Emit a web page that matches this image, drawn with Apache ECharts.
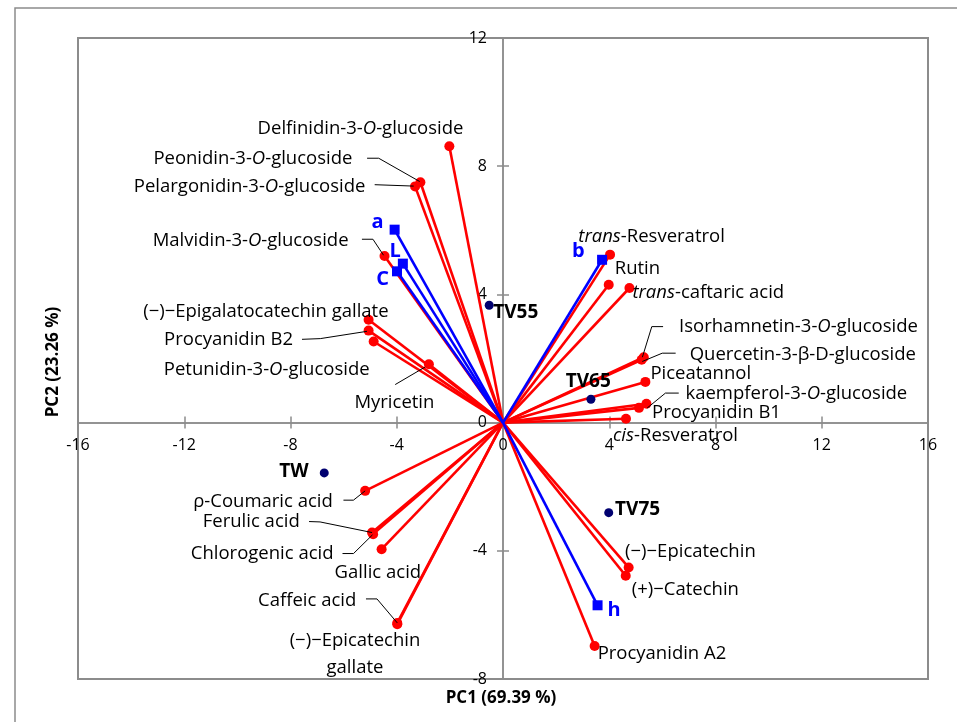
<!DOCTYPE html>
<html><head><meta charset="utf-8">
<script src="https://cdn.jsdelivr.net/npm/echarts@6/dist/echarts.min.js"></script>
<style>html,body{margin:0;padding:0;background:#fff}#c{width:957px;height:722px}</style>
</head><body><div id="c"></div>
<script>
// ---------- DATA ----------
const compounds = [
  'Delfinidin-3-O-glucoside','Peonidin-3-O-glucoside','Pelargonidin-3-O-glucoside','Malvidin-3-O-glucoside',
  '(−)−Epigalatocatechin gallate','Procyanidin B2','Petunidin-3-O-glucoside','Myricetin',
  'trans-Resveratrol','Rutin','trans-caftaric acid','Isorhamnetin-3-O-glucoside','Quercetin-3-β-D-glucoside',
  'Piceatannol','kaempferol-3-O-glucoside','Procyanidin B1','cis-Resveratrol',
  '(−)−Epicatechin','(+)−Catechin','Procyanidin A2',
  'ρ-Coumaric acid','Ferulic acid','Chlorogenic acid','Gallic acid','Caffeic acid','(−)−Epicatechin gallate'
];
const pc1 = [-2.02,-3.11,-3.31,-4.46, -5.06,-5.06,-4.87,-2.79, 4.03,3.98,4.76,5.30,5.22, 5.36,5.40,5.12,4.63, 4.73,4.62,3.45, -5.19,-4.93,-4.89,-4.57,-3.98,-3.98];
const pc2 = [8.62,7.50,7.37,5.20, 3.21,2.87,2.53,1.82, 5.24,4.30,4.20,2.04,1.96, 1.27,0.59,0.46,0.12, -4.52,-4.78,-6.97, -2.13,-3.43,-3.48,-3.95,-6.25,-6.29];

const groups = ['a','L','C','b','h'];
const groupPC1 = [-4.08,-3.77,-3.99,3.73,3.56];
const groupPC2 = [6.02,4.96,4.72,5.08,-5.70];

const samples = ['TW','TV55','TV65','TV75'];
const samplePC1 = [-6.73,-0.52,3.31,3.98];
const samplePC2 = [-1.57,3.66,0.73,-2.81];

const xTicks = [-16,-12,-8,-4,0,4,8,12,16];
const yTicks = [-8,-4,0,4,8,12];
const xTitle = 'PC1 (69.39 %)';
const yTitle = 'PC2 (23.26 %)';

// ---------- LABEL LAYOUT (pixel offsets from each point) ----------
const layout = {
  'Delfinidin-3-O-glucoside': {dx:14, dy:-17.7, align:'right'},
  'Peonidin-3-O-glucoside': {dx:-68, dy:-23.7, align:'right', leader:[[-53.3,-24],[-41.7,-24],[-0.7,-0.7]]},
  'Pelargonidin-3-O-glucoside': {dx:-49.7, dy:0, align:'right', leader:[[-40.4,-1.7],[-1.4,-0.3]]},
  'Malvidin-3-O-glucoside': {dx:-36, dy:-15.7, align:'right', leader:[[-22.6,-16.7],[-11.6,-16.7],[-1,-0.7]]},
  '(−)−Epigalatocatechin gallate': {dx:20, dy:-7.6, align:'right'},
  'Procyanidin B2': {dx:-75.6, dy:9, align:'right', leader:[[-66.6,8.7],[-48.3,8],[-1.6,0.7]]},
  'Petunidin-3-O-glucoside': {dx:-4, dy:28.3, align:'right'},
  'Myricetin': {dx:-34.5, dy:38.7, align:'center', leader:[[-33.7,20.3],[-3.7,2.7]]},
  'trans-Resveratrol': {dx:-31.7, dy:-17.6, align:'left'},
  'Rutin': {dx:6, dy:-16, align:'left'},
  'trans-caftaric acid': {dx:3, dy:4.6, align:'left'},
  'Isorhamnetin-3-O-glucoside': {dx:35.3, dy:-30, align:'left', leader:[[-1.4,0],[8,-30.6],[19.3,-30.6]]},
  'Quercetin-3-β-D-glucoside': {dx:48, dy:-5, align:'left', leader:[[0.6,1.7],[20.6,-6.6],[34,-6.6]]},
  'Piceatannol': {dx:5, dy:-8.4, align:'left'},
  'kaempferol-3-O-glucoside': {dx:39, dy:-10.3, align:'left', leader:[[0.7,4.4],[19,-10.6],[32.3,-10.6]]},
  'Procyanidin B1': {dx:13, dy:4.5, align:'left'},
  'cis-Resveratrol': {dx:-13, dy:16.7, align:'left'},
  '(−)−Epicatechin': {dx:-3.6, dy:-15.6, align:'left'},
  '(+)−Catechin': {dx:6, dy:14.3, align:'left'},
  'Procyanidin A2': {dx:3, dy:7.6, align:'left'},
  'ρ-Coumaric acid': {dx:-32.3, dy:11, align:'right', leader:[[-21.7,9.3],[-11.7,9.3],[0,0]]},
  'Ferulic acid': {dx:-72.3, dy:-11, align:'right', leader:[[-63,-11],[-52,-10.6],[0,0]]},
  'Chlorogenic acid': {dx:-39.6, dy:19.7, align:'right', leader:[[-30.6,19.4],[-19.6,19.4],[-0.6,0.7]]},
  'Gallic acid': {dx:-47, dy:23.7, align:'left'},
  'Caffeic acid': {dx:-41, dy:-22.6, align:'right', leader:[[-31.3,-24],[-20.3,-24],[0,0]]},
  '(−)−Epicatechin gallate': {dx:-42.3, dy:29.7, align:'center', wrap:true},
  'a': {dx:-17, dy:-7.6, align:'center'},
  'L': {dx:-7.7, dy:-12.6, align:'center'},
  'C': {dx:-14.4, dy:8, align:'center'},
  'b': {dx:-23.7, dy:-8.6, align:'center'},
  'h': {dx:10, dy:5, align:'left'},
  'TW': {dx:-15.7, dy:-1.7, align:'right'},
  'TV55': {dx:4, dy:7, align:'left'},
  'TV65': {dx:-2.7, dy:-18, align:'center'},
  'TV75': {dx:6.4, dy:-3, align:'left'}
};

const FONT = '"Open Sans", "Noto Sans", sans-serif';
const RED = '#ff0000', BLUE = '#0000ff', NAVY = '#000070', GRAY = '#8c8c8c';
const G = {left:78, top:38, right:29, bottom:43, W:957, H:722};
const gridW = G.W - G.left - G.right, gridH = G.H - G.top - G.bottom;

const allPoints = [
  ...compounds.map((n,i)=>({name:n, x:pc1[i], y:pc2[i], kind:'c'})),
  ...groups.map((n,i)=>({name:n, x:groupPC1[i], y:groupPC2[i], kind:'g'})),
  ...samples.map((n,i)=>({name:n, x:samplePC1[i], y:samplePC2[i], kind:'s'}))
];

function fmt(n, wrap){
  let t = n.replace(/-O-/g,'-{i|O}-').replace(/^(trans|cis)-/,'{i|$1}-');
  if (wrap) { const k = t.lastIndexOf(' '); t = t.slice(0,k) + '\n' + t.slice(k+1); }
  return t;
}

function renderItem(params, api){
  const pt = allPoints[api.value(2)];
  const c = api.coord([api.value(0), api.value(1)]);
  const L = layout[pt.name];
  const children = [];
  if (L.leader) {
    children.push({type:'polyline', silent:true,
      shape:{points:L.leader.map(o=>[c[0]+o[0], c[1]+o[1]])},
      style:{stroke:'#000', lineWidth:1, fill:null}});
  }
  let size = 18.5, weight = 'normal', fill = '#000';
  if (pt.kind === 'g') { size = 20; weight = 'bold'; fill = BLUE; }
  if (pt.kind === 's') { size = 19; weight = 'bold'; fill = '#000'; }
  children.push({type:'text', silent:true, x:c[0]+L.dx, y:c[1]+L.dy,
    style:{text: fmt(pt.name, L.wrap), fill, fontSize:size, fontWeight:weight, fontFamily:FONT,
      align:L.align, verticalAlign:'middle', lineHeight:27,
      rich:{i:{fontStyle:'italic', fontSize:size, fontFamily:FONT, fill}}}});
  return {type:'group', children};
}

const xMin = xTicks[0], xMax = xTicks[xTicks.length-1], xInt = xTicks[1]-xTicks[0];
const yMin = yTicks[0], yMax = yTicks[yTicks.length-1], yInt = yTicks[1]-yTicks[0];
// place the axes through the origin (as the other axis's zero)
const xAxisOffset = -gridH * (0 - yMin) / (yMax - yMin);
const yAxisOffset = -gridW * (0 - xMin) / (xMax - xMin);

function xAxisCfg(inner){
  return {type:'value', min:xMin, max:xMax, interval:xInt, position:'bottom', offset:xAxisOffset,
    axisLine:{show:true, onZero:false, lineStyle:{color:GRAY, width:1.5}},
    axisTick:{show:true, inside:inner, length:6, lineStyle:{color:GRAY, width:1.5}},
    axisLabel:{show:!inner, margin:15, fontSize:16, fontFamily:FONT, color:'#000', showMinLabel:true, showMaxLabel:true},
    splitLine:{show:false}};
}
function yAxisCfg(inner){
  return {type:'value', min:yMin, max:yMax, interval:yInt, position:'left', offset:yAxisOffset,
    axisLine:{show:true, onZero:false, lineStyle:{color:GRAY, width:1.5}},
    axisTick:{show:true, inside:inner, length:6, lineStyle:{color:GRAY, width:1.5}},
    axisLabel:{show:!inner, margin:16, fontSize:16, fontFamily:FONT, color:'#000', showMinLabel:true, showMaxLabel:true},
    splitLine:{show:false}};
}

const chart = echarts.init(document.getElementById('c'), null, {renderer:'canvas'});
chart.setOption({
  animation:false,
  backgroundColor:'#fff',
  grid:{left:G.left, top:G.top, right:G.right, bottom:G.bottom, show:true, borderColor:GRAY, borderWidth:2, backgroundColor:'transparent'},
  xAxis:[xAxisCfg(false), xAxisCfg(true)],
  yAxis:[yAxisCfg(false), yAxisCfg(true)],
  graphic:[
    {type:'rect', z:-10, silent:true, shape:{x:15, y:8, width:1000, height:1000}, style:{fill:null, stroke:GRAY, lineWidth:1.5}},
    {type:'text', x:501, y:698, silent:true, style:{text:xTitle, font:'bold 17px ' + FONT, fill:'#000', align:'center', verticalAlign:'middle'}},
    {type:'text', x:53, y:362, rotation:Math.PI/2, silent:true, style:{text:yTitle, font:'bold 17px ' + FONT, fill:'#000', align:'center', verticalAlign:'middle'}}
  ],
  series:[
    {type:'lines', coordinateSystem:'cartesian2d', silent:true, z:2,
      data: compounds.map((n,i)=>({coords:[[0,0],[pc1[i],pc2[i]]]})),
      lineStyle:{color:RED, width:2.6, opacity:1}},
    {type:'lines', coordinateSystem:'cartesian2d', silent:true, z:3,
      data: groups.map((n,i)=>({coords:[[0,0],[groupPC1[i],groupPC2[i]]]})),
      lineStyle:{color:BLUE, width:2.6, opacity:1}},
    {type:'scatter', z:4, silent:true, symbol:'circle', symbolSize:10,
      data: compounds.map((n,i)=>[pc1[i],pc2[i]]), itemStyle:{color:RED, opacity:1}},
    {type:'scatter', z:5, silent:true, symbol:'rect', symbolSize:10,
      data: groups.map((n,i)=>[groupPC1[i],groupPC2[i]]), itemStyle:{color:BLUE, opacity:1}},
    {type:'scatter', z:5, silent:true, symbol:'circle', symbolSize:9,
      data: samples.map((n,i)=>[samplePC1[i],samplePC2[i]]), itemStyle:{color:NAVY, opacity:1}},
    {type:'custom', z:6, silent:true, renderItem,
      data: allPoints.map((p,k)=>[p.x,p.y,k])}
  ]
});
</script>
</body></html>
